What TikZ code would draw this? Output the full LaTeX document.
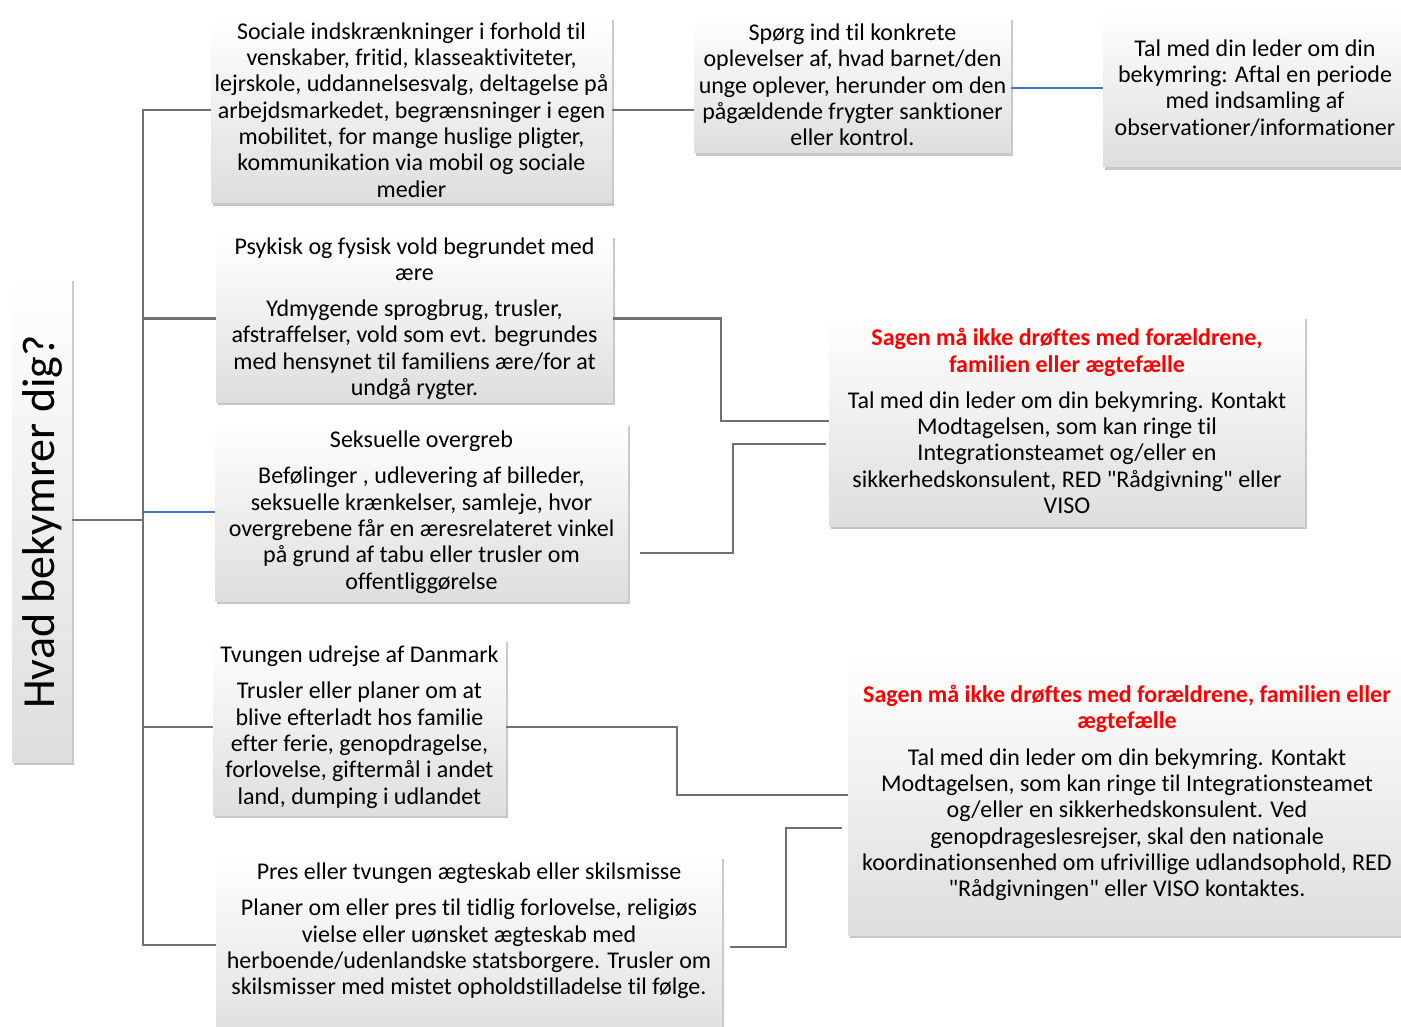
\documentclass[tikz,border=0pt]{standalone}
\usepackage{fontspec}
\setmainfont{Carlito}[Ligatures={NoCommon,TeXOff}]
\usetikzlibrary{shadows,calc}
\definecolor{lnGray}{HTML}{707070}
\definecolor{lnBlue}{HTML}{4472C4}
\definecolor{redTxt}{HTML}{FF0000}
\tikzset{
  box/.style={rectangle, inner sep=0pt, align=center,
    top color=white, middle color=white, bottom color=black!13,
    drop shadow={shadow xshift=2pt, shadow yshift=-3pt, fill=black, opacity=0.22},
    font=\fontsize{24}{26.3}\selectfont},
  plain/.style={inner sep=0pt, align=center, font=\fontsize{24}{26.3}\selectfont},
  conn/.style={draw=lnGray, line width=2.8pt},
  bconn/.style={draw=lnBlue, line width=2.2pt}
}
\newcommand{\redline}[1]{{\color{redTxt}\bfseries #1}}
\begin{document}
\begin{tikzpicture}[x=1pt,y=-1pt]
\useasboundingbox (0,0) rectangle (1401,1027);
\fill[white] (0,0) rectangle (1401,1027);

% title
\node[box, minimum width=60pt, minimum height=484pt] (T) at (42,520) {};
\node[plain, rotate=90, font=\fontsize{46}{50}\selectfont] (Tt) at (42,522) {Hvad bekymrer dig?};

% boxes
\node[box, minimum width=401pt, minimum height=186pt] (A) at (411.5,110) {Sociale indskrænkninger i forhold til\\venskaber, fritid, klasseaktiviteter,\\lejrskole, uddannelsesvalg, deltagelse på\\arbejdsmarkedet, begrænsninger i egen\\mobilitet, for mange huslige pligter,\\kommunikation via mobil og sociale\\medier};

\node[box, minimum width=317pt, minimum height=136pt] (B) at (852.5,85) {Spørg ind til konkrete\\oplevelser af, hvad barnet/den\\unge oplever, herunder om den\\pågældende frygter sanktioner\\eller kontrol.};

\node[box, minimum width=309pt, minimum height=157pt] (C) at (1257.5,88.5) {};
\node[plain] (Ct) at (1255,88) {Tal med din leder om din\\bekymring: Aftal en periode\\med indsamling af\\observationer/informationer};

\node[box, minimum width=397pt, minimum height=167pt] (D) at (414.5,318.5) {Psykisk og fysisk vold begrundet med\\ære\\[10pt]Ydmygende sprogbrug, trusler,\\afstraffelser, vold som evt. begrundes\\med hensynet til familiens ære/for at\\undgå rygter.};

\node[box, minimum width=413pt, minimum height=178pt] (E) at (421.5,512) {Seksuelle overgreb\\[10pt]Befølinger , udlevering af billeder,\\seksuelle krænkelser, samleje, hvor\\overgrebene får en æresrelateret vinkel\\på grund af tabu eller trusler om\\offentliggørelse};

\node[box, minimum width=476pt, minimum height=210pt] (F) at (1067,421) {\redline{Sagen må ikke drøftes med forældrene,}\\\redline{familien eller ægtefælle}\\[10pt]Tal med din leder om din bekymring. Kontakt\\Modtagelsen, som kan ringe til\\Integrationsteamet og/eller en\\sikkerhedskonsulent, RED "Rådgivning" eller\\VISO};

\node[box, minimum width=293pt, minimum height=176pt] (G) at (359.5,727) {Tvungen udrejse af Danmark\\[10pt]Trusler eller planer om at\\blive efterladt hos familie\\efter ferie, genopdragelse,\\forlovelse, giftermål i andet\\land, dumping i udlandet};

\node[box, minimum width=506pt, minimum height=190pt] (H) at (469,951) {};
\node[plain] (Ht) at (469,931) {Pres eller tvungen ægteskab eller skilsmisse\\[10pt]Planer om eller pres til tidlig forlovelse, religiøs\\vielse eller uønsket ægteskab med\\herboende/udenlandske statsborgere. Trusler om\\skilsmisser med mistet opholdstilladelse til følge.};

\node[box, minimum width=562pt, minimum height=280pt] (I) at (1129,795) {};
\node[plain] (It) at (1127,793) {\redline{Sagen må ikke drøftes med forældrene, familien eller}\\\redline{ægtefælle}\\[10pt]Tal med din leder om din bekymring. Kontakt\\Modtagelsen, som kan ringe til Integrationsteamet\\og/eller en sikkerhedskonsulent. Ved\\genopdrageslesrejser, skal den nationale\\koordinationsenhed om ufrivillige udlandsophold, RED\\"Rådgivningen" eller VISO kontaktes.};

% trunk
\coordinate (tr) at (143,520);
\draw[conn] (T.east) -- (tr);
\draw[conn] (A.west) -| (tr);
\draw[conn] (D.west) -| (tr);
\draw[conn] (G.west) -| (tr);
\draw[conn] ([yshift=6pt]H.west) -| (tr);
\draw[bconn] (E.west) -- (E.west -| tr);

% right-hand connectors
\draw[conn] (A.east) -- (A.east -| B.west);
\draw[bconn] ([yshift=-3pt]B.east) -- ([yshift=-3pt]B.east -| C.west);
\draw[conn] (D.east) -| ($(D.east)!.5!(F.west)$) |- (F.west);
\draw[conn] ([xshift=12pt,yshift=-41pt]E.east) -| ($([xshift=12pt,yshift=-41pt]E.east)!.5!([xshift=-3pt,yshift=-23pt]F.west)$) |- ([xshift=-3pt,yshift=-23pt]F.west);
\draw[conn] (G.east) -| ($(G.east)!.5!(I.west)$) |- (I.west);
\draw[conn] ([xshift=8pt,yshift=4pt]H.east) -| (786,880) |- ([xshift=-6pt,yshift=-33pt]I.west);
\end{tikzpicture}
\end{document}
